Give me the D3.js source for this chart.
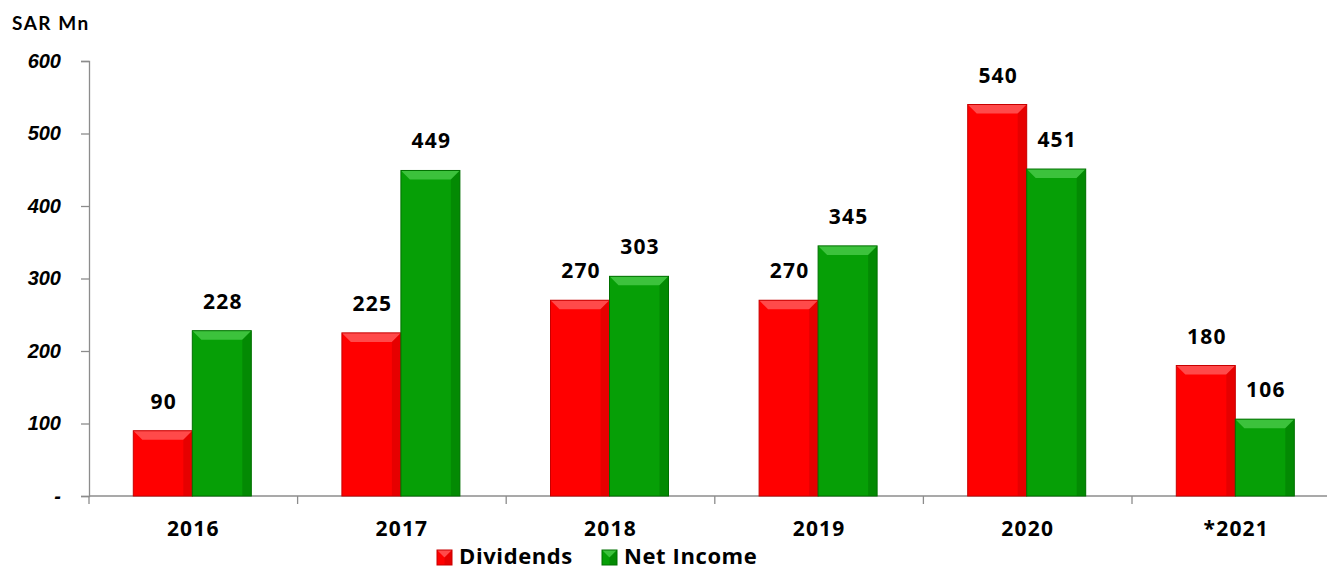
<!DOCTYPE html>
<html>
<head>
<meta charset="utf-8">
<script src="https://cdn.jsdelivr.net/npm/d3@7"></script>
<style>
  body { margin: 0; background: #fff; }
  svg { font-family: "Open Sans", sans-serif; }
</style>
</head>
<body>
<script>
const years = ["2016", "2017", "2018", "2019", "2020", "*2021"];
const dividends = [90, 225, 270, 270, 540, 180];
const netIncome = [228, 449, 303, 345, 451, 106];
const yTicks = [0, 100, 200, 300, 400, 500, 600];

const seriesList = [
    { name: "Dividends", values: dividends, base: "#ff0000", light: "#ff4a4a", dark: "#c80000" },
    { name: "Net Income", values: netIncome, base: "#069f06", light: "#3cc23c", dark: "#007000" }
];

const margin = { top: 61, right: 0, bottom: 74, left: 89 },
    width = 1327 - margin.left - margin.right,
    height = 570 - margin.top - margin.bottom;

const svg = d3.select("body").append("svg")
    .attr("width", 1327)
    .attr("height", 570);

const g = svg.append("g")
    .attr("transform", "translate(" + margin.left + "," + margin.top + ")");

const x = d3.scaleBand().domain(years).range([0, 208.6 * 6]);
const y = d3.scaleLinear().domain([0, 600]).range([height, 0]);
const bw = 59;

// y axis
const yAxis = g.append("g")
    .call(d3.axisLeft(y).tickValues(yTicks).tickSize(8).tickPadding(20)
        .tickFormat(d => d === 0 ? "-" : d));
yAxis.select(".domain").attr("stroke", "#8c8c8c").attr("stroke-width", 1.3);
yAxis.selectAll(".tick line").attr("stroke", "#8c8c8c").attr("stroke-width", 1.3);
yAxis.selectAll("text")
    .attr("fill", "#000")
    .style("font-size", "20px")
    .style("font-weight", "bold")
    .style("font-style", "italic");

// x axis with ticks at band edges
g.append("line")
    .attr("x1", 0).attr("x2", width)
    .attr("y1", height).attr("y2", height)
    .attr("stroke", "#8c8c8c").attr("stroke-width", 1.3);
g.selectAll(".xtick")
    .data(years)
    .join("line")
    .attr("x1", d => x(d)).attr("x2", d => x(d))
    .attr("y1", height).attr("y2", height + 8)
    .attr("stroke", "#8c8c8c").attr("stroke-width", 1.3);
g.selectAll(".xlab")
    .data(years)
    .join("text")
    .attr("x", d => x(d) + x.bandwidth() / 2)
    .attr("y", height + 40)
    .attr("text-anchor", "middle")
    .style("font-size", "21px")
    .style("font-weight", "bold")
    .style("letter-spacing", "1.2px")
    .text(d => d);

// bevelled bar
function bevelBar(sel, x0, y0, w, h, s) {
    const b = Math.min(9, h / 2, w / 2);
    sel.append("rect").attr("x", x0).attr("y", y0).attr("width", w).attr("height", h).attr("fill", s.base);
    sel.append("polygon")
        .attr("points", [[x0, y0], [x0 + w, y0], [x0 + w - b, y0 + b], [x0 + b, y0 + b]].join(" "))
        .attr("fill", s.light);
    sel.append("polygon")
        .attr("points", [[x0 + w, y0], [x0 + w - b, y0 + b], [x0 + w - b, y0 + h], [x0 + w, y0 + h]].join(" "))
        .attr("fill", s.dark).attr("opacity", 0.45);
    sel.append("rect").attr("x", x0).attr("y", y0).attr("width", w).attr("height", h)
        .attr("fill", "none").attr("stroke", s.dark).attr("stroke-width", 1);
}

seriesList.forEach((s, si) => {
    years.forEach((yr, i) => {
        const cx = x(yr) + x.bandwidth() / 2 - 1;
        const x0 = cx - bw + si * bw;
        const v = s.values[i];
        bevelBar(g.append("g"), x0, y(v), bw, height - y(v), s);
        g.append("text")
            .attr("x", x0 + bw / 2 + 1)
            .attr("y", y(v) - 22)
            .attr("text-anchor", "middle")
            .style("font-size", "21px")
            .style("font-weight", "bold")
            .style("letter-spacing", "1.2px")
            .text(v);
    });
});

// unit label
svg.append("text")
    .attr("x", 12).attr("y", 30)
    .style("font-family", "Lato, sans-serif")
    .style("font-size", "19px")
    .style("font-weight", "bold")
    .style("letter-spacing", "1.5px")
    .text("SAR Mn");

// legend
const legend = svg.append("g").attr("transform", "translate(437,550)");
const legX = [0, 165];
seriesList.forEach((s, i) => {
    const lg = legend.append("g").attr("transform", "translate(" + legX[i] + ",0)");
    bevelBar(lg, 0, 0, 15, 15, s);
    lg.append("text")
        .attr("x", 22).attr("y", 14)
        .style("font-size", "22px")
        .style("font-weight", "bold")
        .style("letter-spacing", "0.6px")
        .text(s.name);
});
</script>
</body>
</html>
